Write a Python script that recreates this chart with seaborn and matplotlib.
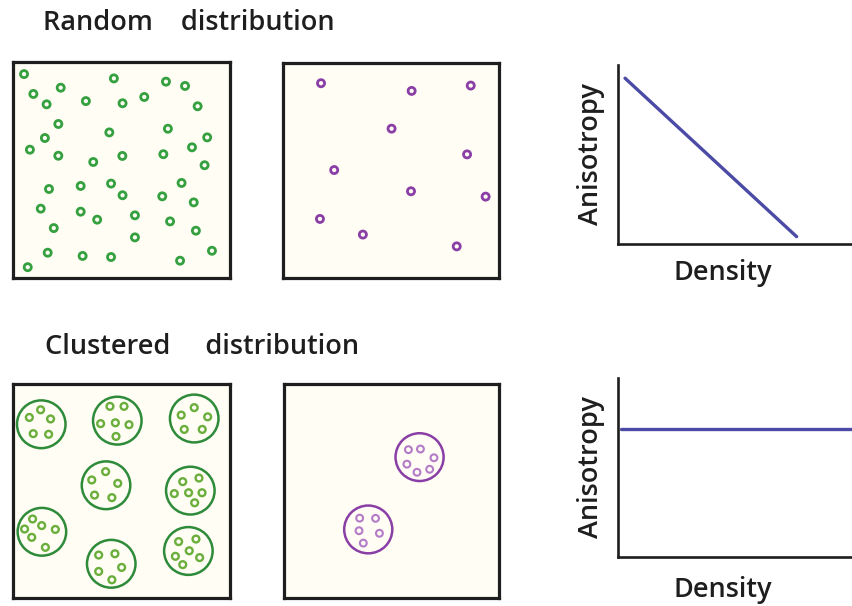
import numpy as np
import pandas as pd
import matplotlib
matplotlib.use("Agg")
import matplotlib.pyplot as plt
from matplotlib.patches import Circle
import seaborn as sns

# Random distribution, dense (green) - positions in a 0-100 box
rand_dense_x = [5.1, 46.5, 70.5, 79.3, 9.4, 22.0, 15.5, 33.6, 50.5, 60.5, 85.1,
                20.9, 14.7, 7.8, 20.9, 44.4, 37.0, 50.4, 71.4, 69.3, 82.5, 89.5,
                88.3, 16.6, 31.2, 45.2, 50.5, 77.7, 68.8, 83.3, 12.8, 31.2, 38.8,
                56.2, 72.4, 18.8, 56.2, 84.3, 16.0, 32.1, 45.2, 77.0, 91.7, 6.8]
rand_dense_y = [94.4, 92.4, 90.9, 88.9, 85.2, 88.1, 80.4, 81.9, 80.9, 83.8, 79.5,
                71.3, 64.8, 59.4, 56.6, 67.4, 53.7, 56.5, 69.1, 57.3, 60.5, 65.1,
                52.2, 41.2, 42.6, 43.7, 38.3, 44.0, 37.8, 35.0, 32.1, 30.7, 27.0,
                29.0, 26.2, 23.1, 18.8, 21.9, 11.7, 10.2, 9.7, 8.0, 12.6, 5.0]

# Random distribution, sparse (purple)
rand_sparse_x = [17.5, 59.5, 86.9, 50.2, 85.2, 23.6, 59.2, 93.8, 17.0, 36.9, 80.4]
rand_sparse_y = [90.7, 87.1, 89.6, 69.5, 57.5, 50.2, 40.3, 37.8, 27.4, 20.1, 14.6]

# Clustered, dense (green): cluster centres and members
clus_dense_cx = [12.9, 48.0, 83.5, 42.8, 81.7, 13.2, 45.2, 80.8]
clus_dense_cy = [81.3, 83.0, 84.0, 52.7, 50.2, 30.9, 15.9, 21.9]
clus_radius = 11.2
clus_dense_px = [7.4, 12.6, 17.2, 9.2, 16.3,
                 44.6, 51.1, 40.3, 47.1, 53.4, 47.4,
                 83.5, 77.5, 89.7, 78.9, 87.2,
                 42.6, 36.2, 48.2, 37.5, 45.5,
                 78.2, 85.7, 74.3, 80.9, 87.1, 83.7,
                 8.9, 5.2, 13.1, 19.4, 8.5, 14.8,
                 39.4, 46.9, 39.4, 50.0, 45.5,
                 76.3, 84.3, 81.2, 74.8, 86.0, 78.2]
clus_dense_py = [84.5, 88.1, 83.8, 76.9, 76.6,
                 89.7, 89.7, 81.6, 82.0, 81.1, 75.6,
                 89.1, 85.6, 84.8, 78.9, 78.9,
                 59.1, 55.2, 53.6, 48.1, 46.9,
                 54.4, 56.1, 48.8, 49.2, 49.2, 44.5,
                 36.9, 32.2, 33.8, 32.0, 28.3, 23.6,
                 20.0, 20.6, 12.3, 14.2, 8.4,
                 26.3, 27.5, 22.0, 19.4, 18.8, 15.5]

# Clustered, sparse (purple)
clus_sparse_cx = [63.0, 39.1]
clus_sparse_cy = [65.9, 32.0]
clus_sparse_px = [57.8, 63.4, 69.7, 57.1, 61.8, 67.7,
                  35.1, 42.5, 34.8, 44.3, 36.8]
clus_sparse_py = [69.4, 69.7, 65.6, 62.6, 58.8, 60.2,
                  37.3, 37.2, 31.4, 30.2, 25.6]

# Anisotropy vs density
density = [3, 76]
aniso_random = [92.6, 4.1]
density_flat = [1, 100]
aniso_clustered = [71.4, 71.4]

green = "#35a03f"
green_dark = "#2e8b3a"
green_light = "#6aae3c"
purple = "#8a3fa6"
purple_light = "#b47cc8"
blue = "#4b4ba6"
cream = "#fffdf4"
ink = "#1e1e1e"

sns.set_style("white")
plt.rcParams["font.family"] = ["Open Sans", "DejaVu Sans"]
TXT = dict(fontsize=19.5, fontweight="semibold", color=ink)

fig = plt.figure(figsize=(8.53, 6.06), dpi=100)


def box_axes(rect):
    ax = fig.add_axes(rect)
    ax.set_facecolor(cream)
    ax.set_xlim(0, 100)
    ax.set_ylim(0, 100)
    ax.set_xticks([])
    ax.set_yticks([])
    for s in ax.spines.values():
        s.set_visible(True)
        s.set_color(ink)
        s.set_linewidth(2.3)
    return ax


def dots(ax, x, y, color, lw=2.0, s=26):
    sns.scatterplot(x=x, y=y, ax=ax, marker="o", s=s, facecolor="none",
                    edgecolor=color, linewidth=lw, legend=False)
    ax.set_xlim(0, 100)
    ax.set_ylim(0, 100)
    ax.set_xlabel("")
    ax.set_ylabel("")


def rings(ax, cx, cy, color):
    for x, y in zip(cx, cy):
        ax.add_patch(Circle((x, y), clus_radius, fill=False, edgecolor=color, lw=1.8))


# top row
ax1 = box_axes([0.0152, 0.5413, 0.2544, 0.3564])
dots(ax1, rand_dense_x, rand_dense_y, green)
ax2 = box_axes([0.3321, 0.5418, 0.2529, 0.3538])
dots(ax2, rand_sparse_x, rand_sparse_y, purple)

# bottom row
ax4 = box_axes([0.0156, 0.0137, 0.254, 0.352])
rings(ax4, clus_dense_cx, clus_dense_cy, green_dark)
dots(ax4, clus_dense_px, clus_dense_py, green_light, lw=1.7, s=24)
ax5 = box_axes([0.3333, 0.0137, 0.2517, 0.352])
rings(ax5, clus_sparse_cx, clus_sparse_cy, purple)
dots(ax5, clus_sparse_px, clus_sparse_py, purple_light, lw=1.5, s=24)


def graph_axes(rect, x, y, label_y):
    ax = fig.add_axes(rect)
    ax.set_facecolor("white")
    sns.lineplot(x=x, y=y, ax=ax, color=blue, linewidth=2.4)
    ax.set_xlim(0, 100)
    ax.set_ylim(0, 100)
    ax.set_xticks([])
    ax.set_yticks([])
    for side in ["top", "right"]:
        ax.spines[side].set_visible(False)
    for side in ["left", "bottom"]:
        ax.spines[side].set_color(ink)
        ax.spines[side].set_linewidth(1.9)
    ax.set_xlabel("Density", **TXT)
    ax.set_ylabel("Anisotropy", **TXT)
    ax.xaxis.set_label_coords(0.447, label_y)
    ax.yaxis.set_label_coords(-0.055, 0.5)
    return ax


ax3 = graph_axes([0.7245, 0.5974, 0.2755, 0.2954], density, aniso_random, -0.085)
ax6 = graph_axes([0.7249, 0.0814, 0.2751, 0.2944], density_flat, aniso_clustered, -0.11)

fig.text(43 / 853, 1 - 23 / 606, "Random    distribution", ha="left", va="center", **TXT)
fig.text(45 / 853, 1 - 347 / 606, "Clustered     distribution", ha="left", va="center", **TXT)

fig.savefig("out.png", dpi=100, facecolor="white")
